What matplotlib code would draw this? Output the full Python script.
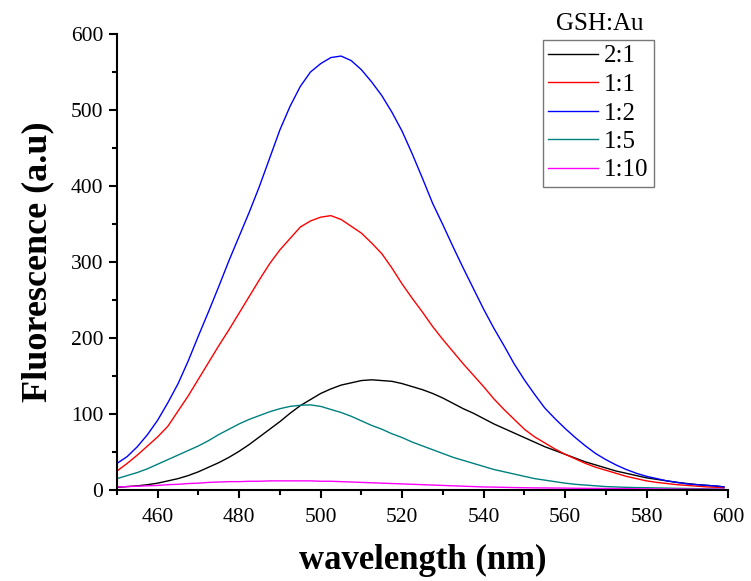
import numpy as np
import matplotlib
matplotlib.use('Agg')
import matplotlib.pyplot as plt
from matplotlib.ticker import MultipleLocator

plt.rcParams['font.family'] = ['Liberation Serif', 'DejaVu Serif']

# wavelength grid (nm): 450, 452.5, ... 597.5, then 599
wl = np.append(np.arange(450, 600, 2.5), 599)

# GSH:Au ratios, fluorescence (a.u)
r2_1 = [3.5, 4.5, 5.5, 7, 9, 12, 15, 19, 24, 30,
        36, 43, 51, 60, 70, 80, 90, 101, 111, 119,
        127, 133, 138, 141, 144, 145, 144, 143, 140, 136,
        132, 127, 121, 114, 107, 101, 94, 87, 81, 75,
        69, 63, 57, 52, 47, 42, 37, 33, 29, 25,
        22, 19, 16, 14, 12, 10, 8.5, 7, 6, 5,
        4]
r1_1 = [25, 35, 46, 58, 70, 84, 104, 124, 146, 168,
        190, 211, 233, 255, 277, 298, 316, 331, 346, 354,
        359, 361, 356, 347, 338, 325, 311, 292, 271, 252,
        234, 215, 198, 182, 166, 151, 136, 120, 106, 93,
        80, 70, 62, 54, 47, 41, 35, 30, 26, 22,
        18, 15, 12, 10, 8.5, 7, 6, 5, 4, 3.5,
        3]
r1_2 = [35, 44, 57, 73, 92, 115, 140, 170, 203, 235,
        268, 302, 334, 366, 400, 437, 474, 505, 531, 550,
        561, 569, 571, 565, 553, 537, 519, 497, 472, 442,
        410, 377, 349, 320, 292, 265, 238, 213, 190, 166,
        145, 126, 108, 94, 81, 69, 58, 48, 40, 33,
        27, 22, 18, 15, 12, 10, 8, 7, 6, 5,
        4]
r1_5 = [15, 19, 23, 28, 34, 40, 46, 52, 58, 65,
        73, 80, 87, 93, 98, 103, 107, 110, 111.5, 112,
        110, 106, 102, 97, 91, 85, 80, 74, 69, 63,
        58, 53, 48, 43, 39, 35, 31, 27, 24, 21,
        18, 15, 13, 11, 9, 7.5, 6.5, 5.5, 4.5, 4,
        3.5, 3.2, 3, 2.7, 2.5, 2.2, 2, 1.8, 1.5, 1.2,
        1]
r1_10 = [4, 4.5, 5, 5.5, 6, 7, 7.5, 8.5, 9, 10,
         10.5, 11, 11, 11.5, 11.5, 12, 12, 12, 12, 12,
         11.5, 11.5, 11, 10.5, 10, 9.5, 9, 8.5, 8, 7.5,
         7, 6.5, 6, 5.5, 5, 4.5, 4, 3.8, 3.5, 3.2,
         3, 2.8, 2.7, 2.6, 2.5, 2.3, 2.2, 2.1, 2, 1.9,
         1.8, 1.6, 1.5, 1.4, 1.3, 1.2, 1.1, 1, 1, 1,
         1]

labels = ['2:1', '1:1', '1:2', '1:5', '1:10']
colors = ['black', '#ff0000', '#0000ff', '#008080', '#ff00ff']

fig = plt.figure(figsize=(7.51, 5.81), dpi=100)
ax = fig.add_axes([117 / 751, 1 - 490 / 581, 611 / 751, 456 / 581])

for y, lab, c in zip([r2_1, r1_1, r1_2, r1_5, r1_10], labels, colors):
    ax.plot(wl, y, color=c, lw=1.0, label=lab)

ax.set_xlim(450, 600)
ax.set_ylim(0, 600)
ax.xaxis.set_major_locator(MultipleLocator(20))
ax.xaxis.set_minor_locator(MultipleLocator(10))
ax.yaxis.set_major_locator(MultipleLocator(100))
ax.yaxis.set_minor_locator(MultipleLocator(50))
ax.spines['top'].set_visible(False)
ax.spines['right'].set_visible(False)
for s in ['left', 'bottom']:
    ax.spines[s].set_linewidth(1.5)
ax.tick_params(which='major', direction='out', length=6, width=1.5, labelsize=15.5, pad=4)
ax.tick_params(axis='x', which='major', pad=7)
ax.tick_params(which='minor', direction='out', length=3.5, width=1.5)

ax.set_xlabel('wavelength (nm)', fontsize=25, fontweight='bold', labelpad=12)
ax.set_ylabel('Fluorescence (a.u)', fontsize=26, fontweight='bold', labelpad=12)

leg = ax.legend(loc='upper left', bbox_to_anchor=(543 / 751, 1 - 40 / 581),
                bbox_transform=fig.transFigure, borderaxespad=0, fontsize=18,
                frameon=True, fancybox=False, handlelength=2.0, handletextpad=0.25,
                labelspacing=0.24, borderpad=0.2)
leg.get_frame().set_edgecolor('#555555')
leg.get_frame().set_linewidth(1.0)
fig.text(600 / 751, 1 - 24 / 581, 'GSH:Au', fontsize=18, ha='center', va='center')

fig.savefig('out.png', dpi=100)
